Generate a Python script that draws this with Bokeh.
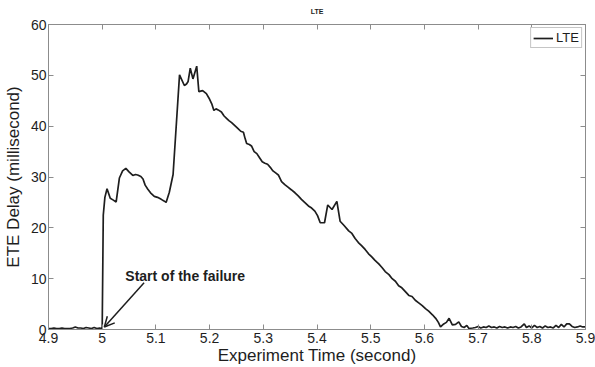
from bokeh.plotting import figure
from bokeh.models import (ColumnDataSource, FixedTicker, LinearAxis, Range1d, Label,
                          Arrow, OpenHead, CustomJSTickFormatter, Legend, LegendItem,
                          CustomLabelingPolicy)
from bokeh.embed import file_html
from bokeh.resources import INLINE

# ---------------- data ----------------
time_s = [
    4.900, 4.905, 4.910, 4.915, 4.920, 4.925, 4.930, 4.935, 4.940, 4.945,
    4.950, 4.955, 4.960, 4.965, 4.970, 4.975, 4.980, 4.985, 4.990, 4.995,
    5.000, 5.002, 5.005, 5.009, 5.015, 5.020, 5.026, 5.032, 5.038, 5.044,
    5.050, 5.057, 5.062, 5.066, 5.072, 5.076, 5.080, 5.085, 5.090, 5.097,
    5.103, 5.110, 5.115, 5.119, 5.125, 5.132, 5.144, 5.153, 5.157, 5.160,
    5.164, 5.169, 5.176, 5.180, 5.187, 5.194, 5.199, 5.204, 5.208, 5.212,
    5.216, 5.222, 5.227, 5.232, 5.236, 5.241, 5.247, 5.253, 5.258, 5.263,
    5.266, 5.269, 5.274, 5.278, 5.283, 5.288, 5.293, 5.298, 5.303, 5.308,
    5.313, 5.318, 5.323, 5.328, 5.334, 5.340, 5.346, 5.352, 5.359, 5.365,
    5.371, 5.377, 5.384, 5.390, 5.396, 5.401, 5.406, 5.414, 5.420, 5.428,
    5.437, 5.443, 5.450, 5.459, 5.465, 5.471, 5.477, 5.483, 5.490, 5.496,
    5.502, 5.508, 5.515, 5.521, 5.527, 5.534, 5.540, 5.546, 5.552, 5.558,
    5.565, 5.571, 5.577, 5.583, 5.590, 5.596, 5.602, 5.608, 5.615, 5.621,
    5.626, 5.630, 5.636, 5.641, 5.646, 5.652, 5.658, 5.664, 5.669, 5.674,
    5.679, 5.683, 5.690, 5.695, 5.700, 5.705, 5.710, 5.715, 5.720, 5.725,
    5.730, 5.735, 5.740, 5.745, 5.750, 5.755, 5.760, 5.765, 5.770, 5.775,
    5.780, 5.786, 5.790, 5.795, 5.800, 5.805, 5.810, 5.815, 5.820, 5.825,
    5.830, 5.835, 5.840, 5.845, 5.850, 5.855, 5.860, 5.865, 5.870, 5.875,
    5.880, 5.885, 5.890, 5.895, 5.900,
]
lte_delay_ms = [
    0.2, 0.2, 0.3, 0.2, 0.2, 0.3, 0.2, 0.2, 0.2, 0.3,
    0.5, 0.3, 0.3, 0.2, 0.4, 0.3, 0.2, 0.4, 0.2, 0.3,
    0.2, 22.5, 26.0, 27.7, 25.8, 25.5, 25.1, 29.8, 31.2, 31.7,
    31.0, 30.3, 30.5, 30.4, 30.1, 29.6, 28.4, 27.6, 26.9, 26.2,
    26.0, 25.6, 25.3, 25.0, 27.0, 30.5, 50.1, 48.0, 48.3, 48.8,
    51.4, 49.3, 51.8, 46.8, 47.0, 46.4, 45.5, 44.4, 43.1, 43.4,
    43.2, 42.8, 42.0, 41.5, 41.1, 40.7, 40.1, 39.5, 39.0, 38.8,
    37.6, 36.6, 36.4, 36.1, 35.0, 34.6, 33.8, 33.0, 32.7, 32.5,
    31.9, 31.2, 30.8, 30.4, 29.1, 28.5, 28.0, 27.5, 26.9, 26.3,
    25.6, 25.0, 24.3, 23.9, 23.3, 22.4, 21.0, 21.0, 24.5, 23.6,
    25.2, 21.3, 20.5, 19.4, 18.9, 17.9, 17.1, 16.5, 15.7, 14.9,
    14.3, 13.6, 12.9, 12.2, 11.4, 10.8, 10.0, 9.5, 8.6, 8.2,
    7.4, 6.7, 6.5, 5.75, 5.2, 4.7, 4.1, 3.6, 2.9, 2.2,
    1.4, 0.5, 1.1, 1.4, 2.2, 0.9, 1.0, 1.5, 0.6, 0.4,
    0.8, 0.2, 0.3, 0.4, 0.6, 0.3, 0.5, 0.4, 0.7, 0.4,
    0.5, 0.3, 0.6, 0.4, 0.5, 0.3, 0.5, 0.4, 0.6, 0.3,
    0.5, 1.1, 0.4, 0.7, 0.3, 0.8, 0.4, 0.6, 0.3, 0.7,
    0.4, 0.5, 0.3, 0.8, 0.4, 1.0, 0.5, 1.1, 1.1, 0.6,
    0.4, 0.5, 0.7, 0.5, 0.5,
]
x_ticks = [4.9, 5.0, 5.1, 5.2, 5.3, 5.4, 5.5, 5.6, 5.7, 5.8, 5.9]
y_ticks = [0, 10, 20, 30, 40, 50, 60]
series_name = "LTE"
title_text = "LTE"
x_label = "Experiment Time (second)"
y_label = "ETE Delay (millisecond)"
annot_text = "Start of the failure"

FONT = "Liberation Sans"
AXIS_GREY = "#8c8c8c"
INK = "#1e1e1e"

p = figure(width=595, height=367, output_backend="svg", toolbar_location=None,
           x_range=Range1d(4.9, 5.9), y_range=Range1d(0, 60),
           min_border_left=48, min_border_right=10, min_border_top=22, min_border_bottom=38)
p.title.text = title_text
p.title.align = "center"
p.title.text_font = FONT
p.title.text_font_size = "7px"
p.title.text_font_style = "bold"
p.title.text_color = INK
p.title.standoff = 11
p.grid.visible = False
p.outline_line_color = AXIS_GREY
p.outline_line_width = 1
p.background_fill_color = "white"
p.border_fill_color = "white"

src = ColumnDataSource(dict(t=time_s, d=lte_delay_ms))
r = p.line("t", "d", source=src, line_color=INK, line_width=1.7)

fmt = CustomJSTickFormatter(code="var s = tick.toFixed(1); return s.endsWith('.0') ? s.slice(0, -2) : s;")

for ax in p.xaxis:
    ax.ticker = FixedTicker(ticks=x_ticks)
    ax.formatter = fmt
    ax.axis_label = x_label
for ax in p.yaxis:
    ax.ticker = FixedTicker(ticks=y_ticks)
    ax.axis_label = y_label

for ax in list(p.xaxis) + list(p.yaxis):
    ax.axis_line_color = AXIS_GREY
    ax.major_tick_line_color = AXIS_GREY
    ax.major_tick_in = 5
    ax.major_tick_out = 0
    ax.minor_tick_line_color = None
    ax.major_label_text_font = FONT
    ax.major_label_text_font_size = "14px"
    ax.major_label_text_color = INK
    ax.axis_label_text_font = FONT
    ax.axis_label_text_font_size = "17px"
    ax.axis_label_text_font_style = "normal"
    ax.axis_label_text_color = INK
p.xaxis.major_label_standoff = 3
p.xaxis.axis_label_standoff = 0
p.yaxis.major_label_standoff = 2
p.yaxis.axis_label_standoff = 5

# mirrored ticks on top and right (labels hidden by a labeling policy)
top_ax = LinearAxis(ticker=FixedTicker(ticks=x_ticks), major_label_text_font_size="1px",
                    major_label_policy=CustomLabelingPolicy(code="return [];"),
                    major_label_standoff=0, axis_line_color=AXIS_GREY,
                    major_tick_line_color=AXIS_GREY, major_tick_in=5, major_tick_out=0,
                    minor_tick_line_color=None)
right_ax = LinearAxis(ticker=FixedTicker(ticks=y_ticks), major_label_text_font_size="1px",
                      major_label_policy=CustomLabelingPolicy(code="return [];"),
                      major_label_standoff=0, axis_line_color=AXIS_GREY,
                      major_tick_line_color=AXIS_GREY, major_tick_in=5, major_tick_out=0,
                      minor_tick_line_color=None)
p.add_layout(top_ax, "above")
p.add_layout(right_ax, "right")

legend = Legend(items=[LegendItem(label=series_name, renderers=[r])],
                location="top_right", margin=3, padding=2, spacing=0,
                glyph_width=20, glyph_height=12, label_standoff=3, label_height=12,
                label_text_font=FONT, label_text_font_size="13px", label_text_color=INK,
                border_line_color=AXIS_GREY, border_line_width=1,
                background_fill_alpha=1.0)
p.add_layout(legend)

p.add_layout(Arrow(end=OpenHead(size=10, line_color=INK, line_width=1.5),
                   x_start=5.078, y_start=9.2, x_end=5.004, y_end=0.5,
                   line_color=INK, line_width=1.5))
p.add_layout(Label(x=5.043, y=10.6, text=annot_text, text_font=FONT,
                   text_font_size="14px", text_font_style="bold", text_color=INK,
                   text_baseline="alphabetic"))

open("out.html", "w").write(file_html(p, INLINE))
